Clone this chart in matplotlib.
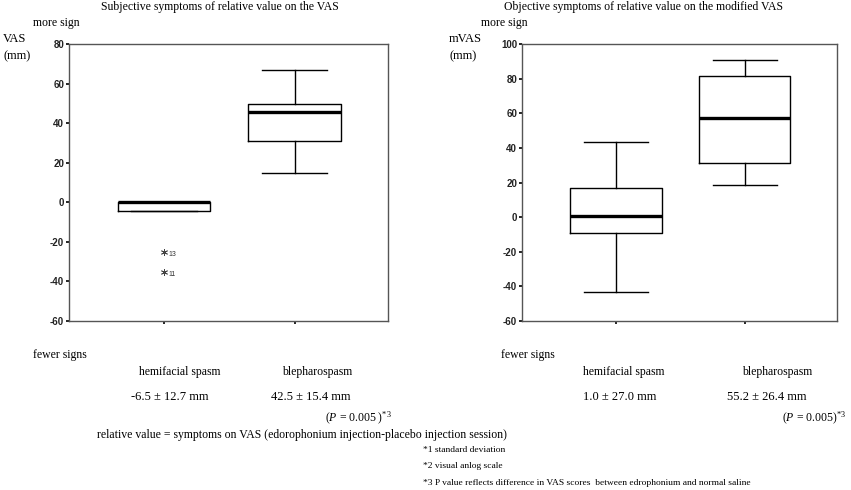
import matplotlib.pyplot as plt

plt.rcParams['mathtext.fontset'] = 'custom'
plt.rcParams['mathtext.rm'] = 'Liberation Serif'
plt.rcParams['mathtext.it'] = 'Liberation Serif:italic'
plt.rcParams['axes.unicode_minus'] = False

serif = 'Liberation Serif'
sans = 'Liberation Sans'

groups = ['hemifacial spasm', 'blepharospasm']

# left panel: subjective VAS
vas_whislo = [-4.5, 15.0]
vas_q1 = [-4.5, 30.8]
vas_med = [0.0, 45.8]
vas_q3 = [0.0, 49.5]
vas_whishi = [0.0, 66.7]
vas_fliers = [[-25.0, -35.0], []]
vas_flier_ids = [['13', '11'], []]
vas_summary = ['-6.5 ± 12.7 mm', '42.5 ± 15.4 mm']

# right panel: objective modified VAS
mvas_whislo = [-43.5, 18.8]
mvas_q1 = [-8.9, 31.3]
mvas_med = [0.4, 57.3]
mvas_q3 = [17.0, 81.7]
mvas_whishi = [43.2, 91.0]
mvas_fliers = [[], []]
mvas_flier_ids = [[], []]
mvas_summary = ['1.0 ± 27.0 mm', '55.2 ± 26.4 mm']

W, H = 851, 490
fig = plt.figure(figsize=(W / 100, H / 100), dpi=100)


def px(x, y):
    return x / W, 1 - y / H


def boxpanel(rect, lo, q1, med, q3, hi, fliers, ids, ylim, yticks):
    ax = fig.add_axes(rect)
    stats = []
    for i in range(len(groups)):
        stats.append(dict(whislo=lo[i], q1=q1[i], med=med[i], q3=q3[i],
                          whishi=hi[i], fliers=fliers[i], label=groups[i]))
    ax.bxp(stats, positions=[1, 2], widths=0.71, showfliers=True,
           boxprops=dict(color='black', lw=1.0),
           whiskerprops=dict(color='black', lw=1.0),
           capprops=dict(color='black', lw=1.0),
           capwidths=0.5,
           medianprops=dict(color='black', lw=2.4, solid_capstyle='butt'),
           flierprops=dict(marker=(6, 2, 0), markersize=5,
                           markeredgecolor='#444444', markeredgewidth=0.6))
    for i in range(len(groups)):
        for v, lab in zip(fliers[i], ids[i]):
            ax.annotate(lab, (i + 1, v), xytext=(3, -2),
                        textcoords='offset points', fontsize=5,
                        family=sans, color='#333333', va='center')
    ax.set_xlim(0.271, 2.716)
    ax.set_ylim(*ylim)
    ax.set_yticks(yticks)
    ax.set_xticks([1, 2])
    ax.set_xticklabels([])
    ax.tick_params(length=2, width=1.2, color='black', pad=1.5)
    for lab in ax.get_yticklabels():
        lab.set_family(sans)
        lab.set_fontsize(7)
        lab.set_fontweight('bold')
        lab.set_color('#222222')
    for s in ax.spines.values():
        s.set_color('#555555')
        s.set_linewidth(1.0)
    return ax


boxpanel([69 / W, 1 - 321 / H, 319 / W, 277 / H],
         vas_whislo, vas_q1, vas_med, vas_q3, vas_whishi,
         vas_fliers, vas_flier_ids, (-60, 80), range(-60, 81, 20))
boxpanel([522 / W, 1 - 321 / H, 315 / W, 277 / H],
         mvas_whislo, mvas_q1, mvas_med, mvas_q3, mvas_whishi,
         mvas_fliers, mvas_flier_ids, (-60, 100), range(-60, 101, 20))


def t(x, y, s, size=8.5, ha='left', **kw):
    fig.text(*px(x, y), s, fontsize=size, ha=ha, va='center', family=serif, **kw)


# titles and axis notes
t(220, 7, 'Subjective symptoms of relative value on the VAS', ha='center')
t(644, 7, 'Objective symptoms of relative value on the modified VAS', ha='center')
t(33, 23, 'more sign')
t(481, 23, 'more sign')
t(3, 39, 'VAS', size=9)
t(3, 56, '(mm)', size=9)
t(449, 39, 'mVAS', size=9)
t(449, 56, '(mm)', size=9)
t(33, 355, 'fewer signs')
t(501, 355, 'fewer signs')

# group names and summaries
for cx, name in zip([180, 317], groups):
    t(cx, 372, name, ha='center')
for cx, name in zip([624, 777], groups):
    t(cx, 372, name, ha='center')
for cx, s in zip([170, 311], vas_summary):
    t(cx, 397, s, size=9, ha='center')
for cx, s in zip([620, 767], mvas_summary):
    t(cx, 397, s, size=9, ha='center')
t(325, 418, r'($\mathit{P}$ = 0.005 )$^{*3}$')
t(782, 418, r'($\mathit{P}$ = 0.005)$^{*3}$')

t(97, 435, 'relative value = symptoms on VAS (edorophonium injection-placebo injection session)')
t(423, 450, '*1 standard deviation', size=6.8)
t(423, 466, '*2 visual anlog scale', size=6.8)
t(423, 483, '*3 P value reflects difference in VAS scores  between edrophonium and normal saline', size=6.8)

fig.savefig('out.png', dpi=100)
